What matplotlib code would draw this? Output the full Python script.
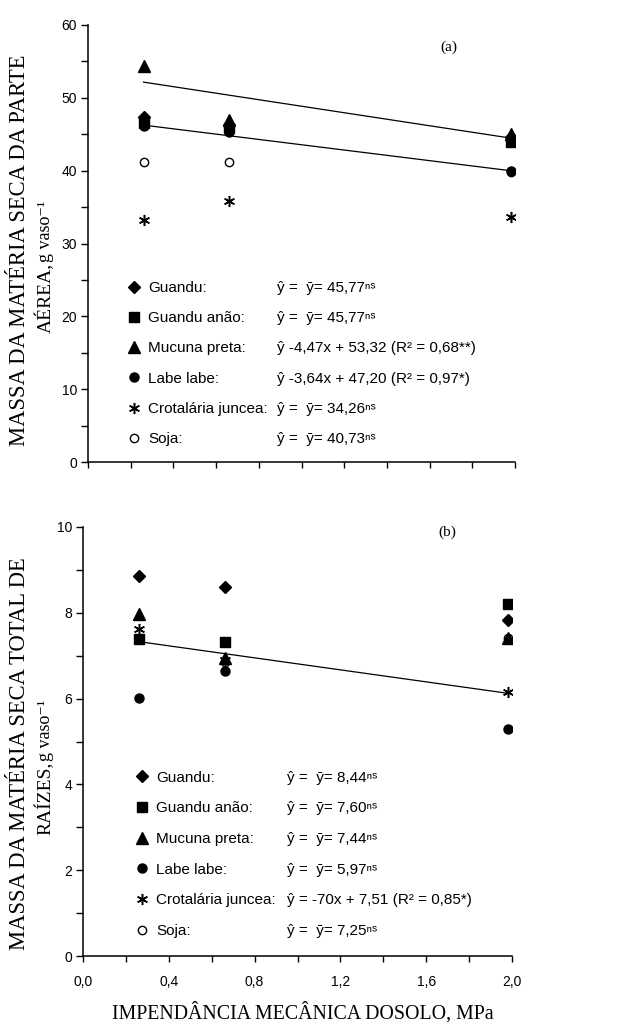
import matplotlib
matplotlib.use('Agg')
import matplotlib.pyplot as plt
from matplotlib.lines import Line2D
from matplotlib.ticker import MultipleLocator, FuncFormatter, NullFormatter
import numpy as np

# dados
x_levels = [0.26, 0.66, 1.98]
species = ['Guandu:', 'Guandu anão:', 'Mucuna preta:', 'Labe labe:',
           'Crotalária juncea:', 'Soja:']

# (a) parte aerea, g/vaso
guandu_a = [47.4, 46.3, 44.6]
anao_a = [46.6, 45.8, 43.9]
mucuna_a = [54.4, 47.0, 45.0]
labe_a = [46.1, 45.3, 39.9]
crot_a = [33.2, 35.8, 33.7]
soja_a = [41.2, 41.2, 39.8]

# (b) raizes, g/vaso
guandu_b = [8.86, 8.61, 7.84]
anao_b = [7.38, 7.32, 8.20]
mucuna_b = [7.98, 6.95, 7.42]
labe_b = [6.02, 6.65, 5.28]
crot_b = [7.62, 6.90, 6.16]
soja_b = [7.40, 6.85, 7.42]

# retas ajustadas (coef. angular, intercepto)
fit_a = [(-4.47, 53.32), (-3.64, 47.20)]
fit_b = [(-0.70, 7.51)]

eq_a = ['ŷ =  ȳ= 45,77ⁿˢ', 'ŷ =  ȳ= 45,77ⁿˢ',
        'ŷ -4,47x + 53,32 (R² = 0,68**)', 'ŷ -3,64x + 47,20 (R² = 0,97*)',
        'ŷ =  ȳ= 34,26ⁿˢ', 'ŷ =  ȳ= 40,73ⁿˢ']
eq_b = ['ŷ =  ȳ= 8,44ⁿˢ', 'ŷ =  ȳ= 7,60ⁿˢ', 'ŷ =  ȳ= 7,44ⁿˢ',
        'ŷ =  ȳ= 5,97ⁿˢ', 'ŷ = -70x + 7,51 (R² = 0,85*)', 'ŷ =  ȳ= 7,25ⁿˢ']

styles = [dict(marker='D', ms=6.5, mfc='k', mec='k'),
          dict(marker='s', ms=7.5, mfc='k', mec='k'),
          dict(marker='^', ms=8, mfc='k', mec='k'),
          dict(marker='o', ms=6.5, mfc='k', mec='k'),
          dict(marker=(6, 2, 0), ms=8, mfc='k', mec='k', mew=1.1),
          dict(marker='o', ms=6, mfc='white', mec='k', mew=1.0)]
# soja fica por baixo dos simbolos cheios
zorders = [4, 4, 4, 4, 4, 3]

sans = ['Liberation Sans', 'DejaVu Sans']
serif = ['Liberation Serif', 'DejaVu Serif']

W, H = 630, 1029
fig = plt.figure(figsize=(6.3, 10.29), dpi=100)
ax1 = fig.add_axes([88 / W, 1 - 462 / H, 427 / W, 437 / H])
ax2 = fig.add_axes([83 / W, 1 - 956 / H, 429 / W, 429 / H])


def comma(v, p):
    return f'{v:.1f}'.replace('.', ',')


def draw(ax, series, fits, eqs, ymax, ymaj, leg_xy, eq_x, spacing):
    for vals, st, z in zip(series, styles, zorders):
        ax.plot(x_levels, vals, linestyle='none', zorder=z, **st)
    xs = np.array([x_levels[0], x_levels[-1]])
    for a, b in fits:
        ax.plot(xs, a * xs + b, color='k', lw=0.9, zorder=2)
    ax.set_xlim(0, 2.0)
    ax.set_ylim(0, ymax)
    for s in ['top', 'right']:
        ax.spines[s].set_visible(False)
    for s in ['left', 'bottom']:
        ax.spines[s].set_linewidth(1.1)
    ax.yaxis.set_major_locator(MultipleLocator(ymaj))
    ax.yaxis.set_minor_locator(MultipleLocator(ymaj / 2))
    ax.xaxis.set_major_locator(MultipleLocator(0.4))
    ax.xaxis.set_minor_locator(MultipleLocator(0.2))
    ax.tick_params(axis='y', which='both', direction='out', length=5, width=1, pad=3)
    ax.tick_params(axis='x', which='both', direction='out', length=4, width=1, pad=10)
    for lab in ax.get_yticklabels() + ax.get_xticklabels():
        lab.set_family(sans)
        lab.set_fontsize(10)

    handles = [Line2D([], [], linestyle='none', **st) for st in styles]
    prop = {'family': sans, 'size': 11}
    leg1 = ax.legend(handles, species, loc='upper left', bbox_to_anchor=leg_xy,
                     frameon=False, borderpad=0, borderaxespad=0,
                     handlelength=0.8, handletextpad=0.5, labelspacing=spacing,
                     prop=prop)
    ax.add_artist(leg1)
    blank = [Line2D([], [], lw=0) for _ in eqs]
    ax.legend(blank, eqs, loc='upper left', bbox_to_anchor=(eq_x, leg_xy[1]),
              frameon=False, borderpad=0, borderaxespad=0,
              handlelength=0, handletextpad=0, labelspacing=spacing, prop=prop)


draw(ax1, [guandu_a, anao_a, mucuna_a, labe_a, crot_a, soja_a], fit_a, eq_a,
     60, 10, (0.094, 0.414), 0.4426, 1.06)
ax1.xaxis.set_major_formatter(NullFormatter())

draw(ax2, [guandu_b, anao_b, mucuna_b, labe_b, crot_b, soja_b], fit_b, eq_b,
     10, 2, (0.124, 0.432), 0.4755, 1.09)
ax2.xaxis.set_major_formatter(FuncFormatter(comma))
for lab in ax2.get_xticklabels():
    lab.set_family(sans)
    lab.set_fontsize(10)

ax1.text(0.845, 0.95, '(a)', transform=ax1.transAxes, ha='center', va='center',
         family=serif, fontsize=11)
ax2.text(0.850, 0.987, '(b)', transform=ax2.transAxes, ha='center', va='center',
         family=serif, fontsize=11)

# rotulos dos eixos
fig.text(20 / W, 1 - 250 / H, 'MASSA DA MATÉRIA SECA DA PARTE', rotation=90,
         ha='center', va='center', family=serif, fontsize=16.3)
fig.text(45 / W, 1 - 333 / H, 'AÉREA,', rotation=90, ha='center', va='bottom',
         family=serif, fontsize=14)
fig.text(46 / W, 1 - 262 / H, 'g vaso⁻¹', rotation=90, ha='center', va='bottom',
         family=serif, fontsize=13)

fig.text(20 / W, 1 - 754 / H, 'MASSA DA MATÉRIA SECA TOTAL DE', rotation=90,
         ha='center', va='center', family=serif, fontsize=16.3)
fig.text(45 / W, 1 - 835 / H, 'RAÍZES,', rotation=90, ha='center', va='bottom',
         family=serif, fontsize=14)
fig.text(46 / W, 1 - 761 / H, 'g vaso⁻¹', rotation=90, ha='center', va='bottom',
         family=serif, fontsize=13)

fig.text(303 / W, 1 - 1013 / H, 'IMPENDÂNCIA MECÂNICA DOSOLO, MPa',
         ha='center', va='center', family=serif, fontsize=14.3)

fig.savefig('out.png', dpi=100)
